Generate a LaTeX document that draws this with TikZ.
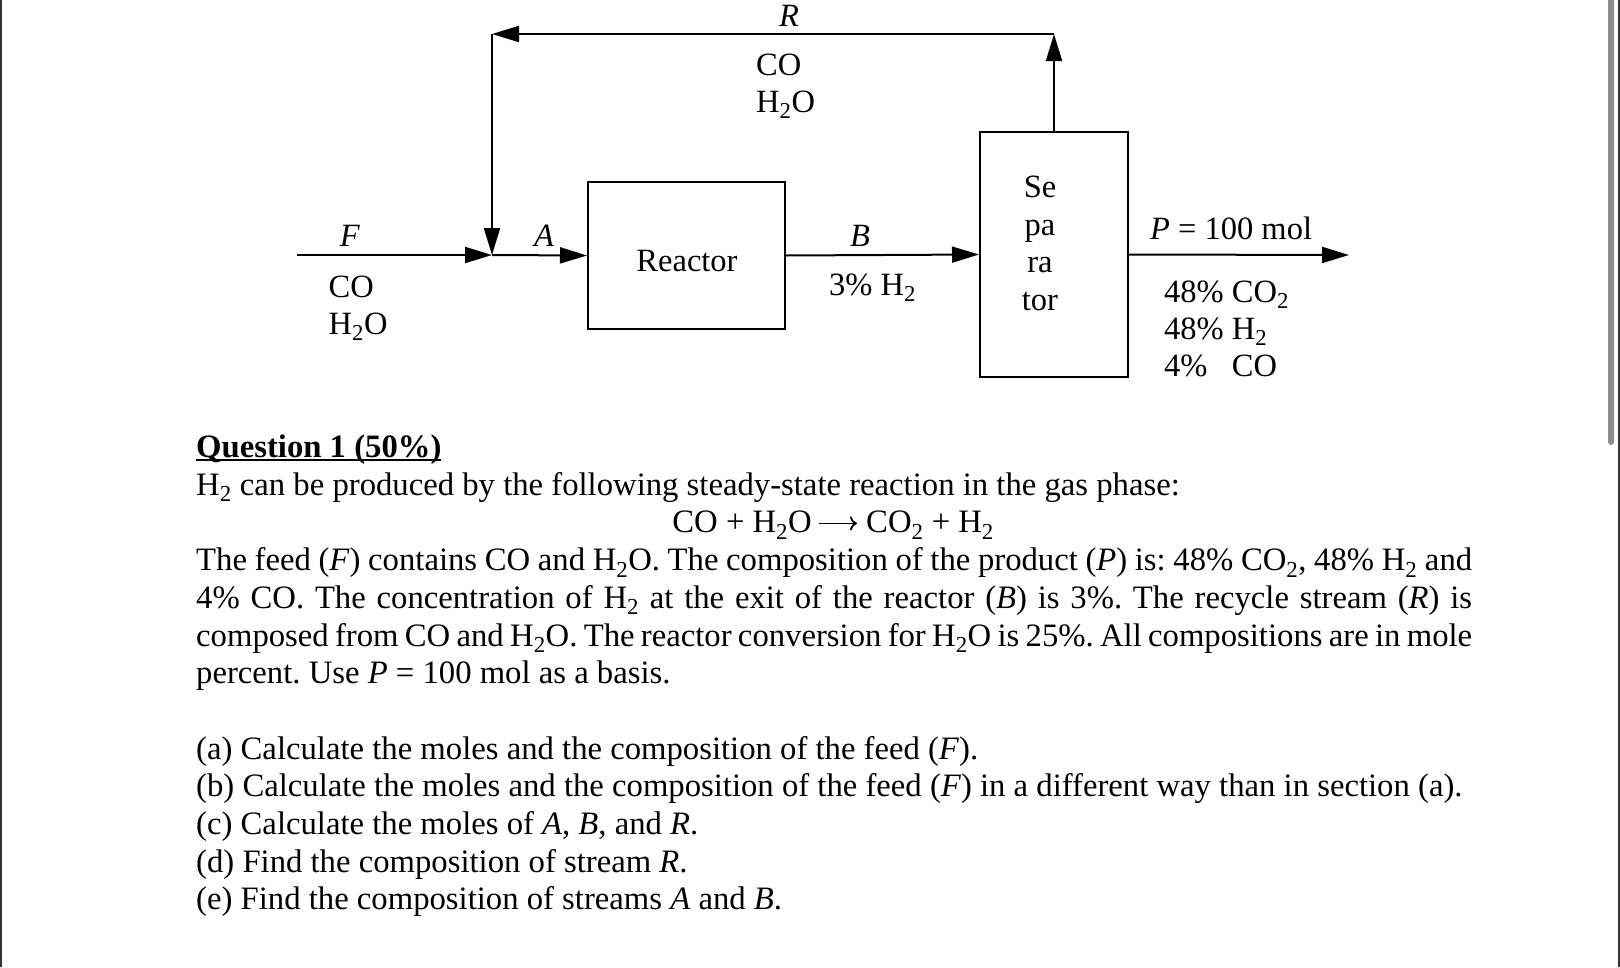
\documentclass[tikz,border=0pt]{standalone}
\usepackage{fontspec}
\setmainfont{Liberation Serif}
\usetikzlibrary{arrows.meta}
\frenchspacing
\newcommand\qul[1]{\setbox0\hbox{#1}\rlap{\rule[-3.5pt]{\wd0}{2pt}}\box0}
\newcommand\jline[1]{\makebox[1276pt][s]{#1}}
\begin{document}
\begin{tikzpicture}[x=1pt,y=-1pt,
  lbl/.style={font=\fontsize{32.5}{37.7}\selectfont, inner sep=0pt, anchor=base},
  lblw/.style={lbl, anchor=base west},
  box/.style={draw, line width=2pt, inner sep=0pt},
  flow/.style={line width=2pt, -{Triangle[length=27pt,width=16pt]}},
  rxn/.style={line width=1.8pt, -{To[length=7pt,width=14pt]}},
  body/.style={font=\fontsize{32.7}{37.7}\selectfont, inner sep=0pt, anchor=base west}]
\useasboundingbox (0,0) rectangle (1620,967);
\fill[white] (0,0) rectangle (1620,967);
% window edges and scrollbar
\fill[black!80] (0,0) rectangle (1.5,967);
\fill[black!80] (1617.5,0) rectangle (1620,967);
\fill[black!45, rounded corners=3pt] (1608,-5) rectangle (1614,445);

% process units
\node[box, minimum width=197pt, minimum height=147pt] (reactor) at (686.5,255.5) {};
\node[lbl] (reactortxt) at (687,271) {Reactor};
\node[box, minimum width=148pt, minimum height=245pt] (sep) at (1054,254.5) {};
\node[lbl] (sep1) at (1040,197) {Se};
\node[lbl] (sep2) at (1040,235) {pa};
\node[lbl] (sep3) at (1040,272.5) {ra};
\node[lbl] (sep4) at (1040,310) {tor};

% stream points
\coordinate (feedin) at (297,255);
\coordinate (mix) at (492,255);
\coordinate (rtop) at (1054,34);
\coordinate (rleft) at (492,34);
\coordinate (pout) at (1349,255);

% connectors
\draw[flow] (feedin) -- (mix);
\draw[flow] (mix) -- (reactor.west);
\draw[flow] (reactor.east) -- (sep.west);
\draw[flow] (sep.east) -- (pout);
\draw[flow] (sep.north) -- (rtop);
\draw[flow] (rtop) -- (rleft);
\draw[flow] (rleft) -- (mix);

% stream labels
\node[lbl] (Flbl) at (350,246) {\textit{F}};
\node[lblw] (Fco) at (328.5,297) {CO};
\node[lblw] (Fh2o) at (328.5,334) {H\textsubscript{2}O};
\node[lbl] (Albl) at (544,246) {\textit{A}};
\node[lbl] (Blbl) at (860,246) {\textit{B}};
\node[lblw] (Bh2) at (829,295) {3\% H\textsubscript{2}};
\node[lbl] (Rlbl) at (789,26) {\textit{R}};
\node[lblw] (Rco) at (756,75) {CO};
\node[lblw] (Rh2o) at (756,112) {H\textsubscript{2}O};
\node[lblw] (Plbl) at (1150,239) {\textit{P} = 100 mol};
\node[lblw] (Pco2) at (1164,302) {48\% CO\textsubscript{2}};
\node[lblw] (Ph2) at (1164,339) {48\% H\textsubscript{2}};
\node[lblw] (Pco) at (1164,376) {4\%\phantom{4}\ CO};

% question text
\node[body] (q) at (196,457.5) {\qul{\textbf{Question 1 (50\%)}}};
\node[body] (l1) at (196,495.2) {H\textsubscript{2} can be produced by the following steady-state reaction in the gas phase:};
\node[body, anchor=base east] (eqL) at (812,532.9) {CO + H\textsubscript{2}O};
\node[body, anchor=base west] (eqR) at (866,532.9) {CO\textsubscript{2} + H\textsubscript{2}};
\draw[rxn] ([shift={(7,-9.5)}]eqL.base east) -- ([shift={(-9,-9.5)}]eqR.base west);
\node[body] (l3) at (196,570.6) {\jline{The feed (\textit{F}) contains CO and H\textsubscript{2}O. The composition of the product (\textit{P}) is: 48\% CO\textsubscript{2}, 48\% H\textsubscript{2} and}};
\node[body] (l4) at (196,608.3) {\jline{4\% CO. The concentration of H\textsubscript{2} at the exit of the reactor (\textit{B}) is 3\%. The recycle stream (\textit{R}) is}};
\node[body] (l5) at (196,646) {\jline{composed from CO and H\textsubscript{2}O. The reactor conversion for H\textsubscript{2}O is 25\%. All compositions are in mole}};
\node[body] (l6) at (196,683.7) {percent. Use \textit{P} = 100 mol as a basis.};
\node[body] (pa) at (196,759.1) {(a) Calculate the moles and the composition of the feed (\textit{F}).};
\node[body] (pb) at (196,796.8) {(b) Calculate the moles and the composition of the feed (\textit{F}) in a different way than in section (a).};
\node[body] (pc) at (196,834.5) {(c) Calculate the moles of \textit{A}, \textit{B}, and \textit{R}.};
\node[body] (pd) at (196,872.2) {(d) Find the composition of stream \textit{R}.};
\node[body] (pe) at (196,909.9) {(e) Find the composition of streams \textit{A} and \textit{B}.};
\end{tikzpicture}
\end{document}
